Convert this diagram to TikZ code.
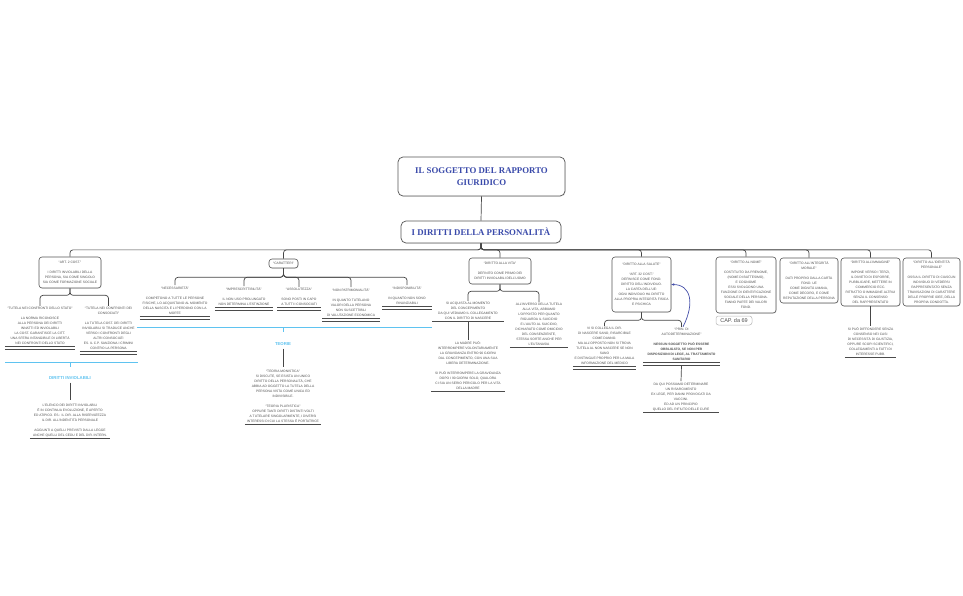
\documentclass[tikz,border=0pt]{standalone}
\usepackage{fontspec}
\setmainfont{Liberation Sans}
\newfontfamily\serifbold[Ligatures=TeX]{Liberation Serif}
\usetikzlibrary{shadows,arrows.meta,calc}
\definecolor{titleblue}{RGB}{58,74,170}
\definecolor{boxc}{RGB}{85,85,85}
\definecolor{linec}{RGB}{70,70,70}
\definecolor{txt}{RGB}{80,80,80}
\definecolor{ulc}{RGB}{75,75,75}
\definecolor{cyanc}{RGB}{95,195,240}
\definecolor{relc}{RGB}{70,80,170}
\definecolor{capc}{RGB}{185,185,185}
\newcommand\bodyf{\fontsize{3.3}{5}\selectfont}
\newcommand\titlef{\fontsize{8.8}{11.5}\selectfont\serifbold\bfseries}
\newcommand\sumf{\fontsize{4.3}{5}\selectfont\bfseries}
\newcommand\capf{\fontsize{5.5}{6}\selectfont}
\tikzset{
  mbox/.style={draw=boxc, line width=0.6pt, rounded corners=3pt, fill=white, align=center, font=\bodyf, text=txt, inner sep=1pt,
    drop shadow={opacity=0.2, shadow xshift=0.7pt, shadow yshift=-0.7pt}},
  tbox/.style={mbox, rounded corners=5pt, font=\titlef, text=titleblue, line width=0.7pt},
  ultext/.style={align=center, font=\bodyf, text=txt, inner sep=1.5pt, anchor=south},
  conn/.style={draw=linec, line width=0.7pt, rounded corners=3pt},
  undl/.style={draw=ulc, line width=0.9pt},
  summ/.style={draw=cyanc, line width=1pt},
  sumt/.style={font=\sumf, text=cyanc, inner sep=1pt},
  rel/.style={draw=relc, line width=0.7pt, -{Stealth[length=3pt,width=2.5pt]}}
}
\begin{document}
\begin{tikzpicture}[x=1pt,y=-1pt]
\useasboundingbox (0,0) rectangle (963,596);
\fill[white] (0,0) rectangle (963,596);

% root and level 0
\node[tbox, minimum width=167pt, minimum height=39pt] (root) at (481.5,176.5) {IL SOGGETTO DEL RAPPORTO\\GIURIDICO};
\node[tbox, minimum width=160pt, minimum height=22pt] (idir) at (481,232) {I DIRITTI DELLA PERSONALITÀ};
\draw[conn] (root.south) -- (idir.north);

% level 1
\node[mbox, minimum width=62pt, minimum height=31pt] (art) at (70,272.5) {“ART. 2 COST.”\\[5pt]I DIRITTI INVIOLABILI DELLA\\PERSONA, SIA COME SINGOLO\\SIA COME FORMAZIONE SOCIALE};
\node[mbox, minimum width=29pt, minimum height=9pt] (car) at (283.5,263.5) {“CARATTERI”};
\node[mbox, minimum width=62pt, minimum height=26pt] (vita) at (500,271) {“DIRITTO ALLA VITA”\\[5pt]DEFINITO COME PRIMO DEI\\DIRITTI INVIOLABILI DELL'UOMO};
\node[mbox, minimum width=59pt, minimum height=55pt] (sal) at (641.5,284.5) {“DIRITTO ALLA SALUTE”\\[5pt]“ART. 32 COST.”\\DEFINISCE COME FOND.\\DIRITTO DELL'INDIVIDUO.\\LA CARTA DELL'UE:\\OGNI INDIVIDUO HA DIRITTO\\ALLA PROPRIA INTEGRITÀ FISICA\\E PSICHICA};
\node[mbox, minimum width=60pt, minimum height=56pt] (nome) at (746,285) {“DIRITTO AL NOME”\\[5pt]COSTITUITO DA PRENOME,\\(NOME DI BATTESIMO),\\E COGNOME\\ESSI SVOLGONO UNA\\FUNZIONE DI IDENTIFICAZIONE\\SOCIALE DELLA PERSONA.\\FANNO PARTE DEI VALORI\\FOND.};
\node[mbox, minimum width=58pt, minimum height=45pt] (mor) at (809,280.5) {“DIRITTO ALL'INTEGRITÀ\\MORALE”\\[5pt]DATI PROPRIO DALLA CARTA\\FOND. UE\\COME DIGNITÀ UMANA,\\COME DECORO, E COME\\REPUTAZIONE DELLA PERSONA};
\node[mbox, minimum width=59pt, minimum height=48pt] (img) at (870.5,282) {“DIRITTO ALL'IMMAGINE”\\[5pt]IMPONE VERSO I TERZI,\\IL DIVIETO DI ESPORRE,\\PUBBLICARE, METTERE IN\\COMMERCIO ECC.\\RITRATTO O IMMAGINE ALTRUI\\SENZA IL CONSENSO\\DEL RAPPRESENTATO};
\node[mbox, minimum width=57pt, minimum height=48pt] (idp) at (931.5,282) {“DIRITTO ALL'IDENTITÀ\\PERSONALE”\\[5pt]OSSIA IL DIRITTO DI CIASCUN\\INDIVIDUO DI VEDERSI\\RAPPRESENTATO SENZA\\TRAVISAZIONI DI CARATTERE\\DELLE PROPRIE IDEE, DELLA\\PROPRIA CONDOTTA.};
\draw[conn] (idir.south) -- ++(0,6.5) -| (art.north);
\draw[conn] (idir.south) -- ++(0,6.5) -| (car.north);
\draw[conn] (idir.south) -- ++(0,6.5) -| (vita.north);
\draw[conn] (idir.south) -- ++(0,6.5) -| (sal.north);
\draw[conn] (idir.south) -- ++(0,6.5) -| (nome.north);
\draw[conn] (idir.south) -- ++(0,6.5) -| (mor.north);
\draw[conn] (idir.south) -- ++(0,6.5) -| (img.north);
\draw[conn] (idir.south) -- ++(0,6.5) -| (idp.north);

\node[draw=capc, rounded corners=2.5pt, line width=0.5pt, minimum width=36pt, minimum height=9pt, inner sep=0.5pt, font=\capf, text=txt] (cap) at (734,320.5) {CAP. da 69};

% ART. 2 COST. children
\node[ultext, minimum width=70pt] (st) at (40,346.5) {“TUTELA NEI CONFRONTI DELLO STATO”\\[5pt]LA NORMA RICONOSCE\\ALLA PERSONA DEI DIRITTI\\INNATTI ED INVIOLABILI\\LA COST. GARANTISCE LA CITT.\\UNA SFERA INTANGIBILE DI LIBERTÀ\\NEI CONFRONTI DELLO STATO};
\node[ultext, minimum width=57pt] (sc) at (108.5,351.5) {“TUTELA NEI CONFRONTI DEI\\CONSOCIATI”\\[5pt]LA TUTELA COST. DEI DIRITTI\\INVIOLABILI SI TRADUCE ANCHE\\VERSO I CONFRONTI DEGLI\\ALTRI CONSOCIATI\\ES. IL C.P. SANZIONA I CRIMINI\\CONTRO LA PERSONA};
\draw[undl] (st.south west) -- (st.south east);
\draw[undl] ($(st.south west)+(0,3)$) -- ($(st.south east)+(0,3)$);
\draw[undl] (sc.south west) -- (sc.south east);
\draw[undl] ($(sc.south west)+(0,3)$) -- ($(sc.south east)+(0,3)$);
\draw[conn] (art.south) -- ++(0,7) -| (st.north);
\draw[conn] (art.south) -- ++(0,7) -| (sc.north);

\draw[summ] (5,362.5) -- (138,362.5);
\draw[summ] (70.5,362.5) -- (70.5,367);
\node[sumt] (dinv) at (70,378) {DIRITTI INVIOLABILI};
\node[ultext, minimum width=80pt] (dtx) at (70,438.5) {L'ELENCO DEI DIRITTI INVIOLABILI\\È IN CONTINUA EVOLUZIONE, È APERTO\\ED ATIPICO. ES.: IL DIR. ALLA RISERVATEZZA\\IL DIR. ALL'INDENTITÀ PERSONALE\\[5pt]AGGIUNTI A QUELLI PREVISTI DALLA LEGGE\\ANCHE QUELLI DEL CEDU E DEL DIR. INTERN.};
\draw[undl] (dtx.south west) -- (dtx.south east);
\draw[conn] ([yshift=-2pt]dinv.south) -- ([yshift=2pt]dtx.north);

% CARATTERI children
\node[ultext, minimum width=70pt] (nec) at (175,316.5) {“NECESSARIETÀ”\\[5pt]COMPETONO A TUTTE LE PERSONE\\FISICHE, LO ACQUISTANO AL MOMENTO\\DELLA NASCITA E LI PERDONO CON LA\\MORTE};
\node[ultext, minimum width=58pt] (imp) at (244,307.5) {“IMPRESCRITTIBILITÀ”\\[5pt]IL NON USO PROLUNGATO\\NON DETERMINA L'ESTINZIONE};
\node[ultext, minimum width=43pt] (ass) at (299,307.5) {“ASSOLUTEZZA”\\[5pt]SONO POSTI IN CAPO\\A TUTTI I CONSOCIATI};
\node[ultext, minimum width=57pt] (nonp) at (351,318.5) {“NON PATRIMONIALITÀ”\\[5pt]IN QUANTO TUTELANO\\VALORI DELLA PERSONA\\NON SUSCETTIBILI\\DI VALUTAZIONE ECONOMICA};
\node[ultext, minimum width=49pt] (ind) at (407,306.5) {“INDISPONIBILITÀ”\\[5pt]IN QUANTO NON SONO\\RINUNZIABILI};
\draw[undl] (nec.south west) -- (nec.south east);
\draw[undl] ($(nec.south west)+(0,3)$) -- ($(nec.south east)+(0,3)$);
\draw[undl] (imp.south west) -- (imp.south east);
\draw[undl] ($(imp.south west)+(0,3)$) -- ($(imp.south east)+(0,3)$);
\draw[undl] (ass.south west) -- (ass.south east);
\draw[undl] ($(ass.south west)+(0,3)$) -- ($(ass.south east)+(0,3)$);
\draw[undl] (nonp.south west) -- (nonp.south east);
\draw[undl] ($(nonp.south west)+(0,3)$) -- ($(nonp.south east)+(0,3)$);
\draw[undl] (ind.south west) -- (ind.south east);
\draw[undl] ($(ind.south west)+(0,3)$) -- ($(ind.south east)+(0,3)$);
\draw[conn] (car.south) -- ++(0,9) -| (nec.north);
\draw[conn] (car.south) -- ++(0,9) -| (imp.north);
\draw[conn] (car.south) -- ++(0,9) -| (ass.north);
\draw[conn] (car.south) -- ++(0,9) -| (nonp.north);
\draw[conn] (car.south) -- ++(0,9) -| (ind.north);

\draw[summ] (137,327.5) -- (432,327.5);
\draw[summ] (283.5,327.5) -- (283.5,332);
\node[sumt] (teo) at (283,344) {TEORIE};
\node[ultext, minimum width=76pt] (ttx) at (283,424.5) {“TEORIA MONISTICA”\\SI DISCUTE, SE ESISTA UN UNICO\\DIRITTO DELLA PERSONALITÀ, CHE\\ABBIA AD OGGETTO LA TUTELA DELLA\\PERSONA VISTA COME UNICA ED\\INDIVISIBILE.\\[5pt]“TEORIA PLURISTICA”\\OPPURE TANTI DIRITTI DISTINTI VOLTI\\A TUTELARE SINGOLARMENTE, I DIVERSI\\INTERESSI DI CUI LA STESSA È PORTATRICE};
\draw[undl] (ttx.south west) -- (ttx.south east);
\draw[conn] ([yshift=-2pt]teo.south) -- ([yshift=2pt]ttx.north);

% VITA children
\node[ultext, minimum width=71pt] (v1) at (468,321.5) {SI ACQUISTA AL MOMENTO\\DEL CONCEPIMENTO\\DA QUI VEDIAMO IL COLLEGAMENTO\\CON IL DIRITTO DI NASCERE};
\node[ultext, minimum width=58pt] (v2) at (539,347.5) {ALL'INVERSO DELLA TUTELA\\ALLA VITA, ABBIAMO\\L'OPPOSTO PER QUANTO\\RIGUARDA IL SUICIDIO\\E L'AIUTO AL SUICIDIO,\\DICHIARATO COME OMICIDIO\\DEL CONSENZIENTE,\\STESSA SORTE ANCHE PER\\L'EUTANASIA};
\node[ultext, minimum width=73pt] (v1a) at (468,391.5) {LA MADRE PUÒ:\\INTERROMPERE VOLONTARIAMENTE\\LA GRAVIDANZA ENTRO 90 GIORNI\\DAL CONCEPIMENTO, CON UNA SUA\\LIBERA DETERMINAZIONE.\\[5pt]SI PUÒ INTERROMPERE LA GRAVIDANZA\\DOPO I 90 GIORNI SOLO, QUALORA\\CI SIA UN SERIO PERICOLO PER LA VITA\\DELLA MADRE};
\draw[undl] (v1.south west) -- (v1.south east);
\draw[undl] (v2.south west) -- (v2.south east);
\draw[undl] (v1a.south west) -- (v1a.south east);
\draw[conn] (vita.south) -- ++(0,7) -| (v1.north);
\draw[conn] (vita.south) -- ++(0,7) -| (v2.north);
\draw[conn] (v1.south) -- (v1a.north);

% SALUTE children
\node[ultext, minimum width=63pt] (s1) at (604.5,366.5) {VI SI COLLEGA IL DIR.\\DI NASCERE SANO, RISARCIBILE\\COME DANNO.\\MA ALL'OPPOSTO NON SI TROVA\\TUTELA AL NON NASCERE SE NON\\SANO\\E DISTINGUE PROPRIO PER LA MALA\\INFORMAZIONE DEL MEDICO};
\node[ultext, minimum width=77pt] (s2) at (681.5,362.5) {“PRIN. DI\\AUTODETERMINAZIONE”\\[5pt]\bfseries NESSUN SOGGETTO PUÒ ESSERE\\\bfseries OBBLIGATO, SE NON PER\\\bfseries DISPOSIZIONI DI LEGE, AL TRATTAMENTO\\\bfseries SANITARIO};
\node[ultext, minimum width=75pt] (s2a) at (681,412.5) {DA QUI POSSIAMO DETERMINARE\\UN RISARCIMENTO\\EX LEGE, PER DANNI PROVOCATI DA\\VACCINI.\\ED AD UN PRINCIPIO\\QUELLO DEL RIFIUTO DELLE CURE};
\draw[undl] (s1.south west) -- (s1.south east);
\draw[undl] ($(s1.south west)+(0,3)$) -- ($(s1.south east)+(0,3)$);
\draw[undl] (s2.south west) -- (s2.south east);
\draw[undl] ($(s2.south west)+(0,3)$) -- ($(s2.south east)+(0,3)$);
\draw[undl] (s2a.south west) -- (s2a.south east);
\draw[conn] (sal.south) -- ++(0,8) -| (s1.north);
\draw[conn] (sal.south) -- ++(0,8) -| (s2.north);
\draw[conn] ($(s2.south)+(0,3)$) -- (s2a.north);
\draw[rel] ([xshift=1.5pt]s2.north) .. controls (695,303) and (691,284.5) .. (sal.east);

% IMMAGINE child
\node[ultext, minimum width=51pt] (im1) at (870.5,357.5) {SI PUÒ DIFFONDERE SENZA\\CONSENSO NEI CASI\\DI NECESSITÀ DI GIUSTIZIA,\\OPPURE SCOPI SCIENTIFICI,\\COLLEGAMENTI A FATTI DI\\INTERESSE PUBB.};
\draw[undl] (im1.south west) -- (im1.south east);
\draw[conn] (img.south) -- (im1.north);
\end{tikzpicture}
\end{document}
